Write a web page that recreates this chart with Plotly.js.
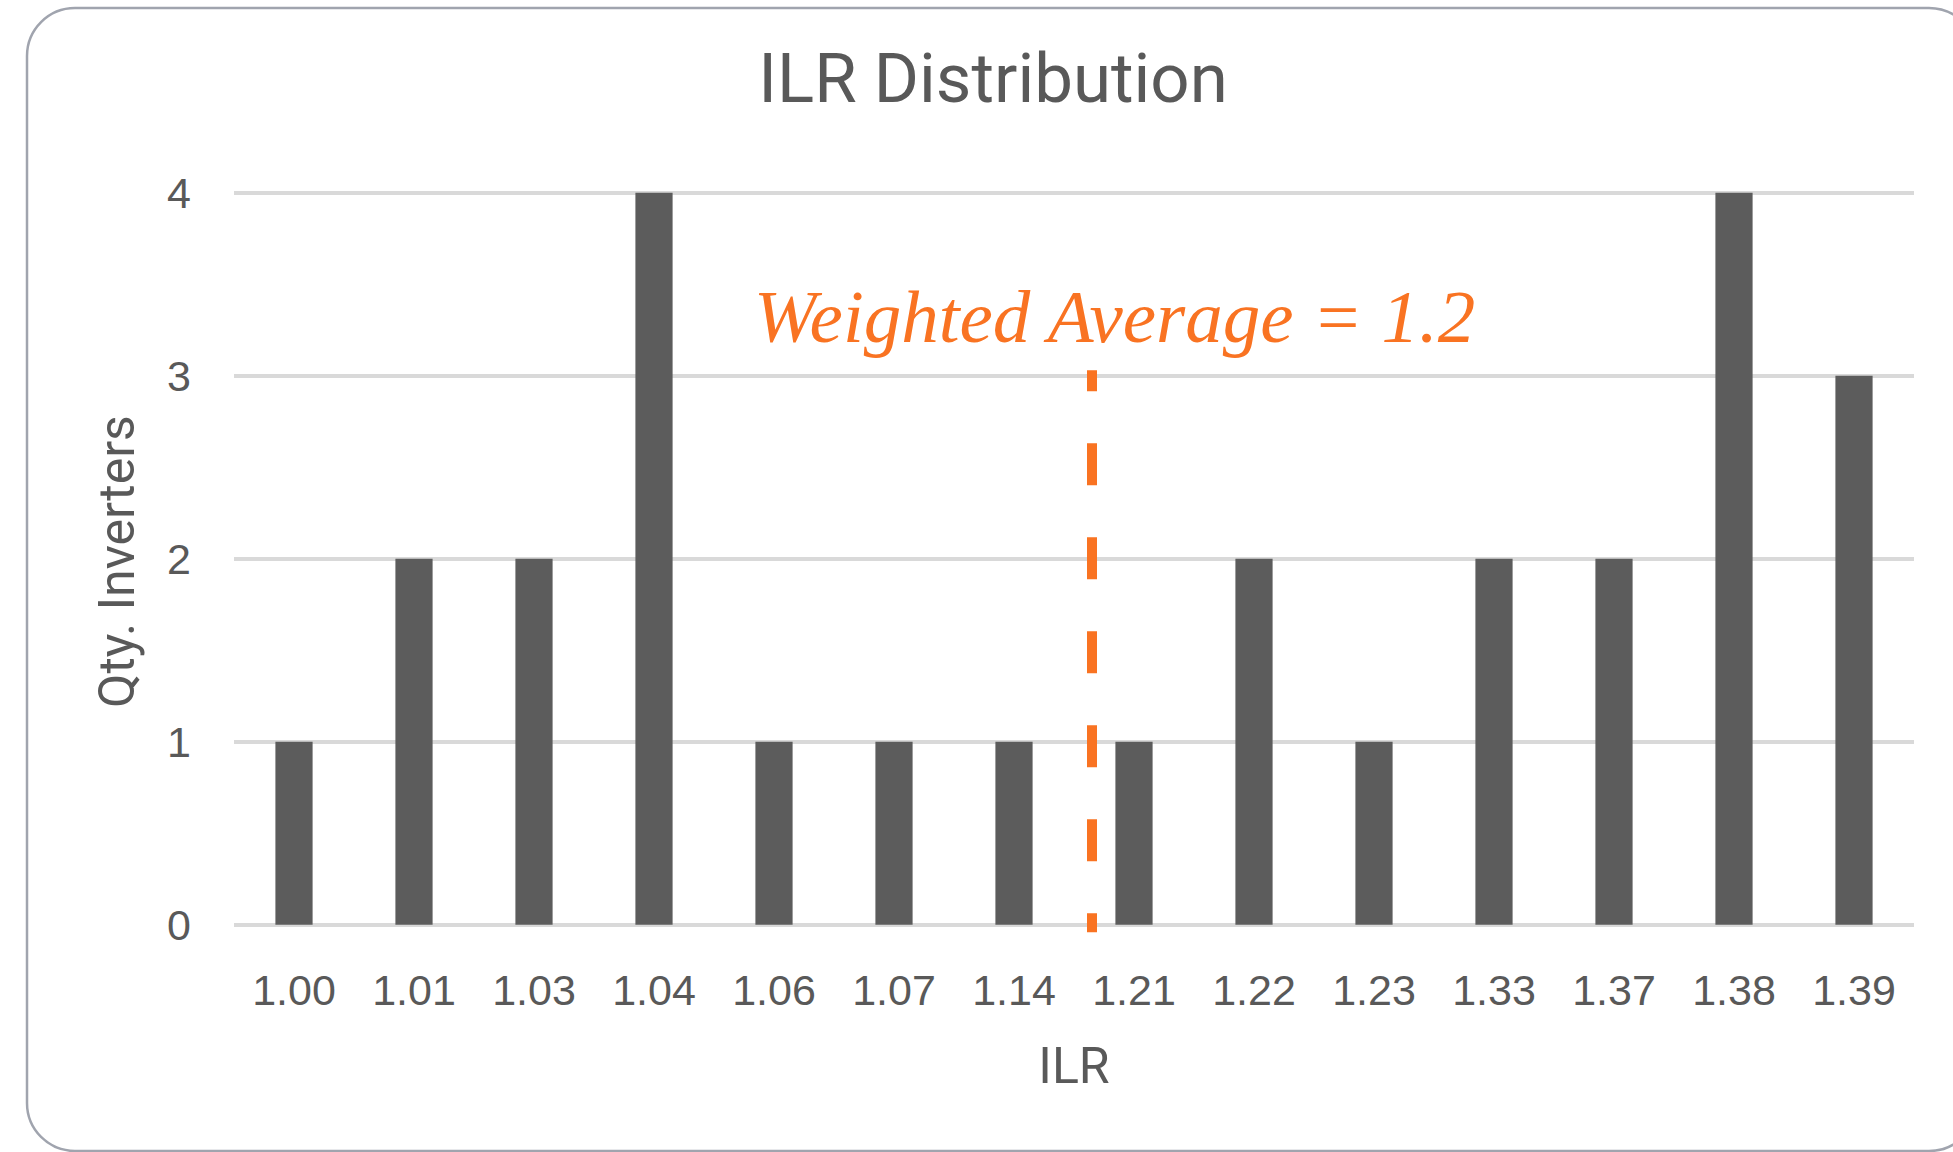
<!DOCTYPE html>
<html>
<head>
<meta charset="utf-8">
<script src="https://cdn.plot.ly/plotly-3.0.1.min.js"></script>
<style>
  html, body { margin: 0; padding: 0; background: #ffffff; }
  #chart { width: 1953px; height: 1152px; }
</style>
</head>
<body>
<div id="chart"></div>
<script>
// ---- data ----
const categories = ['1.00','1.01','1.03','1.04','1.06','1.07','1.14','1.21','1.22','1.23','1.33','1.37','1.38','1.39'];
const counts = [1, 2, 2, 4, 1, 1, 1, 1, 2, 1, 2, 2, 4, 3];
const yTickVals = [0, 1, 2, 3, 4];
const chartTitle = 'ILR Distribution';
const xTitle = 'ILR';
const yTitle = 'Qty. Inverters';
const avgLabel = 'Weighted Average = 1.2';
const avgLinePos = 6.65;      // position between the 1.14 and 1.21 categories
const avgLineTop = 3.03;
const avgLineBottom = -0.04;

// ---- layout helpers ----
const W = 1953, H = 1152;
const M = { l: 234, r: 39, t: 189, b: 218 };
const plotW = W - M.l - M.r, plotH = H - M.t - M.b;
const px = x => (x - M.l) / plotW;
const py = y => (H - M.b - y) / plotH;

function roundRectPath(x0, y0, x1, y1, r) {
  const k = 0.5523 * r;
  const P = (x, y) => px(x).toFixed(5) + ',' + py(y).toFixed(5);
  return 'M' + P(x0 + r, y0) +
    ' L' + P(x1 - r, y0) +
    ' C' + P(x1 - r + k, y0) + ' ' + P(x1, y0 + r - k) + ' ' + P(x1, y0 + r) +
    ' L' + P(x1, y1 - r) +
    ' C' + P(x1, y1 - r + k) + ' ' + P(x1 - r + k, y1) + ' ' + P(x1 - r, y1) +
    ' L' + P(x0 + r, y1) +
    ' C' + P(x0 + r - k, y1) + ' ' + P(x0, y1 - r + k) + ' ' + P(x0, y1 - r) +
    ' L' + P(x0, y0 + r) +
    ' C' + P(x0, y0 + r - k) + ' ' + P(x0 + r - k, y0) + ' ' + P(x0 + r, y0) + ' Z';
}

const textGray = '#595959';

const trace = {
  type: 'bar',
  x: categories,
  y: counts,
  marker: { color: '#5c5c5c', line: { width: 0 } },
  hoverinfo: 'x+y'
};

const layout = {
  width: W, height: H,
  margin: M,
  paper_bgcolor: '#ffffff',
  plot_bgcolor: '#ffffff',
  showlegend: false,
  bargap: 0.69,
  title: {
    text: chartTitle,
    font: { family: 'Roboto', size: 69, color: textGray },
    xref: 'container', x: 993 / W, xanchor: 'center',
    yref: 'container', y: 1 - 78 / H, yanchor: 'middle'
  },
  xaxis: {
    type: 'category',
    range: [-0.5, categories.length - 0.5],
    showgrid: false, zeroline: false, showline: false,
    ticks: '',
    ticklabelstandoff: 27,
    tickfont: { family: 'Liberation Sans', size: 43, color: textGray },
    title: {
      text: xTitle,
      font: { family: 'Roboto', size: 50, color: textGray },
      standoff: 34
    }
  },
  yaxis: {
    range: [-0.05, 4.02],
    tickvals: yTickVals,
    showgrid: true, gridcolor: '#d9d9d9', gridwidth: 4,
    zeroline: true, zerolinecolor: '#d9d9d9', zerolinewidth: 4,
    showline: false, ticks: '',
    ticklabelstandoff: 42,
    tickfont: { family: 'Liberation Sans', size: 43, color: textGray },
    title: {
      text: yTitle,
      font: { family: 'Roboto', size: 50, color: textGray },
      standoff: 16
    }
  },
  shapes: [
    {
      type: 'path', xref: 'paper', yref: 'paper',
      path: roundRectPath(27, 8, 1977, 1151, 48),
      line: { color: '#a0a4ae', width: 2.5 },
      fillcolor: 'rgba(0,0,0,0)', layer: 'below'
    },
    {
      type: 'line', xref: 'x', yref: 'y',
      x0: avgLinePos, x1: avgLinePos, y0: avgLineTop, y1: avgLineBottom,
      line: { color: '#f97322', width: 10,
              dash: '21px,52px,42px,52px,42px,52px,42px,52px,42px,52px,42px,52px,21px' },
      layer: 'above'
    }
  ],
  annotations: [
    {
      text: avgLabel,
      xref: 'paper', yref: 'paper',
      x: px(1114), y: py(316),
      xanchor: 'center', yanchor: 'middle',
      showarrow: false,
      font: { family: 'Liberation Serif', size: 75, color: '#f97322', style: 'italic' }
    }
  ]
};

Plotly.newPlot('chart', [trace], layout, { displayModeBar: false, staticPlot: true });
</script>
</body>
</html>
